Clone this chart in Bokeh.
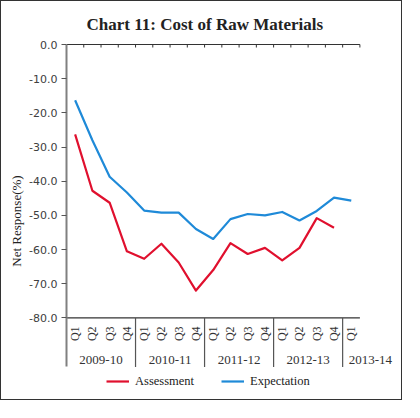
import math
from bokeh.plotting import figure
from bokeh.models import (Range1d, FixedTicker, NumeralTickFormatter, Legend, LegendItem)
from bokeh.core.properties import value
from bokeh.embed import file_html
from bokeh.resources import INLINE

# ---------------- data ----------------
years = ["2009-10", "2010-11", "2011-12", "2012-13", "2013-14"]
quarters_per_year = [4, 4, 4, 4, 1]
quarters = ["Q1", "Q2", "Q3", "Q4"] * 4 + ["Q1"]
assessment = [-26.3, -42.8, -46.3, -60.5, -62.7, -58.3, -63.8, -72.0,
              -66.0, -58.1, -61.3, -59.5, -63.2, -59.5, -50.8, -53.6]
expectation = [-16.3, -28.0, -38.7, -43.3, -48.6, -49.2, -49.2, -54.0,
               -56.9, -51.1, -49.6, -50.0, -49.0, -51.5, -48.7, -44.8, -45.7]
y_ticks = [0, -10, -20, -30, -40, -50, -60, -70, -80]

# ---------------- layout ----------------
W, H = 402, 400
LEFT, RIGHT, TOP = 66, 2, 41
n = len(quarters)
cat_px = 293.4 / n
ppu = 273.4 / 80.0
frame_w = W - LEFT - RIGHT
frame_h = H - TOP
y_top = 3.0 / ppu
y_bottom = y_top - frame_h / ppu
label_band = 49.0 / ppu

serif = "Liberation Serif"
RED = "#E0102E"
BLUE = "#1F8AD8"

p = figure(width=W, height=H, output_backend="svg", toolbar_location=None,
           x_range=Range1d(0, frame_w / cat_px), y_range=Range1d(y_bottom, y_top),
           x_axis_location=None, min_border_left=LEFT, min_border_right=RIGHT,
           min_border_top=TOP, min_border_bottom=0, outline_line_color=None,
           border_fill_color=None, background_fill_color=None,
           title="Chart 11: Cost of Raw Materials")
p.styles = {"outline": "1px solid #333333", "outline-offset": "-1px",
            "background-color": "white"}
p.grid.visible = False

p.title.align = "left"
p.title.offset = 20
p.title.standoff = 15
p.title.text_font = serif
p.title.text_font_size = "17px"
p.title.text_font_style = "bold"
p.title.text_color = "#222222"

ax = p.yaxis[0]
ax.ticker = FixedTicker(ticks=y_ticks)
ax.formatter = NumeralTickFormatter(format="0.0")
ax.bounds = (y_ticks[-1] - label_band, 0)
ax.axis_line_color = "#808080"
ax.axis_line_width = 2
ax.major_tick_in = 0
ax.major_tick_out = 5
ax.major_tick_line_color = "#555555"
ax.minor_tick_line_color = None
ax.major_label_text_font = "DejaVu Sans"
ax.major_label_text_font_size = "11px"
ax.major_label_text_color = "#404040"
ax.major_label_standoff = 4
ax.axis_label = "Net Response(%)"
ax.axis_label_text_font = serif
ax.axis_label_text_font_size = "13px"
ax.axis_label_text_font_style = "normal"
ax.axis_label_text_color = "#222222"
ax.axis_label_standoff = 2

xs = [i + 0.5 for i in range(n)]

# category axis drawn by hand
p.segment(x0=[0], y0=[0], x1=[n], y1=[0], line_color="#333333", line_width=1)
p.segment(x0=list(range(1, n + 1)), y0=[0] * n, x1=list(range(1, n + 1)),
          y1=[-3.0 / ppu] * n, line_color="#333333", line_width=1)
y_min = y_ticks[-1]
p.segment(x0=[0], y0=[y_min], x1=[n], y1=[y_min], line_color="#333333", line_width=1.2)

bounds = []
acc = 0
for c in quarters_per_year[:-1]:
    acc += c
    bounds.append(acc)
p.segment(x0=bounds, y0=[y_min] * len(bounds), x1=bounds,
          y1=[y_min - label_band] * len(bounds), line_color="#555555", line_width=1.2)

p.text(x=xs, y=[y_min - 8.5 / ppu] * n, text=quarters, angle=math.pi / 2,
       text_align="right", text_baseline="middle", text_font=value(serif),
       text_font_size="12px", text_color="#333333")

centers = []
acc = 0
for c in quarters_per_year:
    centers.append(acc + c / 2.0)
    acc += c
gy = y_min - 42.0 / ppu
p.text(x=centers[:-1], y=[gy] * (len(years) - 1), text=years[:-1],
       text_align="center", text_baseline="middle", text_font=value(serif),
       text_font_size="13px", text_color="#333333")
p.text(x=[bounds[-1] + 0.35], y=[gy], text=[years[-1]],
       text_align="left", text_baseline="middle", text_font=value(serif),
       text_font_size="13px", text_color="#333333")

r1 = p.line(xs[:len(assessment)], assessment, line_color=RED, line_width=2.2,
            line_join="round")
r2 = p.line(xs, expectation, line_color=BLUE, line_width=2.2, line_join="round")

legend = Legend(items=[LegendItem(label="Assessment", renderers=[r1]),
                       LegendItem(label="Expectation", renderers=[r2])],
                orientation="horizontal", location=(40, 11), padding=0, margin=0,
                spacing=27, glyph_width=23, glyph_height=16, label_standoff=6,
                border_line_color=None, background_fill_alpha=0,
                label_text_font=serif, label_text_font_size="12.5px",
                label_text_color="#222222")
p.add_layout(legend)

open("out.html", "w").write(file_html(p, INLINE))
